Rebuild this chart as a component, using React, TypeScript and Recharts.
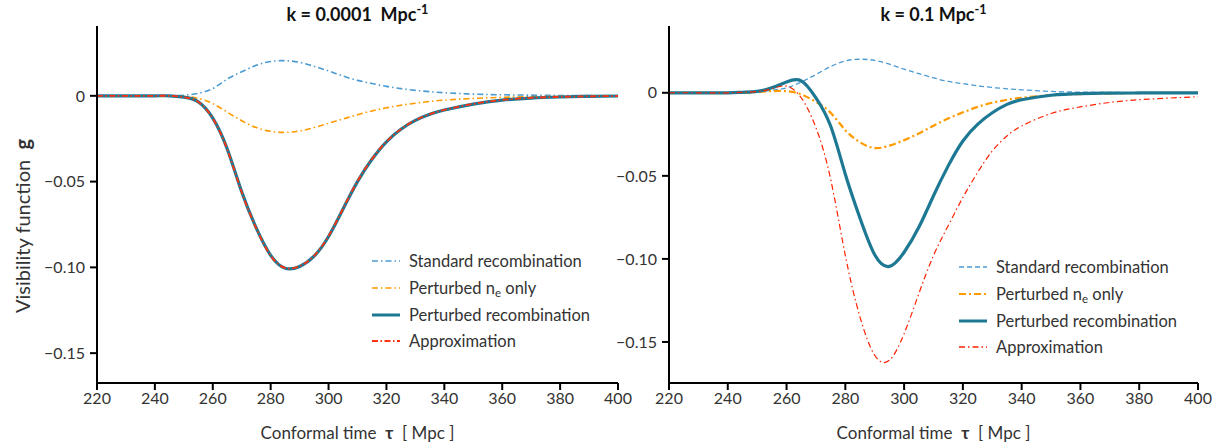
import { LineChart, Line, XAxis, YAxis, Legend } from "recharts";

const tau = [220, 230, 240, 245, 250, 255, 260, 265, 270, 275, 280, 285, 290, 295, 300, 305, 310, 315, 320, 325, 330, 335, 340, 350, 360, 370, 380, 390, 400];

const xTicks = [220, 240, 260, 280, 300, 320, 340, 360, 380, 400];
const yTicks = [0, -0.05, -0.1, -0.15];

// k = 0.0001 Mpc^-1
const lowStandard = [0, 0, 0, 0, 0.0003, 0.0015, 0.0042, 0.0098, 0.014, 0.0178, 0.02, 0.0205, 0.0195, 0.0172, 0.0145, 0.0115, 0.009, 0.0072, 0.0055, 0.0042, 0.0032, 0.0024, 0.0018, 0.001, 0.0006, 0.0004, 0.0002, 0.0001, 0];
const lowNe = [0, 0, 0, 0, -0.0003, -0.0015, -0.0045, -0.0095, -0.0145, -0.0185, -0.0207, -0.0213, -0.0205, -0.0185, -0.016, -0.0135, -0.011, -0.0088, -0.007, -0.0055, -0.0043, -0.0033, -0.0025, -0.0015, -0.0009, -0.0005, -0.0003, -0.0001, 0];
const lowPerturbed = [0, 0, 0, 0, -0.0008, -0.0035, -0.013, -0.031, -0.056, -0.077, -0.093, -0.1005, -0.0995, -0.0935, -0.082, -0.066, -0.05, -0.037, -0.0268, -0.0195, -0.0143, -0.0108, -0.0083, -0.0048, -0.0025, -0.0013, -0.0007, -0.0003, -0.0001];
const lowApprox = [0, 0, 0, 0, -0.0008, -0.0036, -0.0132, -0.0312, -0.0562, -0.0772, -0.0932, -0.1003, -0.0993, -0.0933, -0.0818, -0.0658, -0.0498, -0.0368, -0.0267, -0.0194, -0.0142, -0.0107, -0.0082, -0.0047, -0.0024, -0.0012, -0.0006, -0.0003, -0.0001];

// k = 0.1 Mpc^-1
const highStandard = [0, 0, 0, 0, 0.0004, 0.0015, 0.003, 0.0065, 0.011, 0.0158, 0.0192, 0.0202, 0.0195, 0.0172, 0.0142, 0.0115, 0.009, 0.0068, 0.0055, 0.0042, 0.0032, 0.0024, 0.0018, 0.0008, 0.0004, 0.0002, 0.0001, 0, 0];
const highNe = [0, 0, 0, 0, 0.0005, 0.001, 0.001, -0.001, -0.0055, -0.012, -0.0225, -0.0298, -0.0333, -0.0318, -0.0285, -0.0245, -0.0198, -0.0155, -0.0118, -0.0085, -0.006, -0.0042, -0.003, -0.0015, -0.0008, -0.0004, -0.0002, -0.0001, 0];
const highPerturbed = [0, 0, 0, 0.0003, 0.0008, 0.003, 0.0065, 0.0072, -0.003, -0.02, -0.049, -0.0755, -0.0975, -0.1045, -0.096, -0.081, -0.062, -0.044, -0.029, -0.019, -0.012, -0.007, -0.0042, -0.0015, -0.0005, -0.0002, -0.0001, 0, 0];
const highApprox = [0, 0, 0, 0.0003, 0.0008, 0.0025, 0.004, -0.003, -0.021, -0.052, -0.098, -0.135, -0.158, -0.161, -0.145, -0.121, -0.098, -0.08, -0.063, -0.048, -0.035, -0.026, -0.02, -0.0125, -0.0085, -0.0058, -0.0042, -0.0032, -0.0024];

const FONT = "Lato, 'Open Sans', sans-serif";
const TEXT = "#333";

const lowData = tau.map((t, i) => ({ tau: t, standard: lowStandard[i], ne: lowNe[i], perturbed: lowPerturbed[i], approx: lowApprox[i] }));
const highData = tau.map((t, i) => ({ tau: t, standard: highStandard[i], ne: highNe[i], perturbed: highPerturbed[i], approx: highApprox[i] }));

interface SeriesStyle {
  key: string;
  label: React.ReactNode;
  color: string;
  width: number;
  dash?: string;
}

const neLabel = (
  <>
    Perturbed n<sub style={{ fontSize: "0.7em", verticalAlign: "-0.25em" }}>e</sub> only
  </>
);

const lowStyles: SeriesStyle[] = [
  { key: "standard", label: "Standard recombination", color: "#4b9bd2", width: 1.6, dash: "6 3 1.5 3" },
  { key: "ne", label: neLabel, color: "#ff9a00", width: 1.6, dash: "6 3 1.5 3" },
  { key: "perturbed", label: "Perturbed recombination", color: "#1d7893", width: 3.2 },
  { key: "approx", label: "Approximation", color: "#ff3311", width: 1.8, dash: "6 2.5 1.5 2.5" },
];

const highStyles: SeriesStyle[] = [
  { key: "standard", label: "Standard recombination", color: "#4b9bd2", width: 1.3, dash: "5 3" },
  { key: "ne", label: neLabel, color: "#ff9a00", width: 2.2, dash: "7 3 2 3" },
  { key: "perturbed", label: "Perturbed recombination", color: "#1d7893", width: 3.2 },
  { key: "approx", label: "Approximation", color: "#ff2200", width: 1.2, dash: "6 3 1.5 3" },
];

const fmtY = (v: number) => (v === 0 ? "0" : "\u2212" + Math.abs(v).toFixed(2));

function LegendBox({ items }: { items: SeriesStyle[] }) {
  return (
    <div style={{ fontFamily: FONT, fontSize: 16.5, color: TEXT }}>
      {items.map((s) => (
        <div key={s.key} style={{ display: "flex", alignItems: "center", height: 26.7, whiteSpace: "nowrap" }}>
          <svg width={30} height={10} style={{ marginRight: 8 }}>
            <line x1={1} x2={29} y1={5} y2={5} stroke={s.color} strokeWidth={s.key === "perturbed" ? 3 : Math.max(1.6, s.width)} strokeDasharray={s.dash} />
          </svg>
          <span>{s.label}</span>
        </div>
      ))}
    </div>
  );
}

interface PanelProps {
  data: Array<Record<string, number>>;
  yDomain: [number, number];
  styles: SeriesStyle[];
  width: number;
  yAxisWidth: number;
  rightMargin: number;
  legendLeft: number;
  legendTop: number;
}

function Panel({ data, yDomain, styles, width, yAxisWidth, rightMargin, legendLeft, legendTop }: PanelProps) {
  const frame = { stroke: "#000", strokeWidth: 2 };
  return (
    <LineChart width={width} height={448} data={data} margin={{ top: 26, right: rightMargin, bottom: 0, left: 0 }}>
      <XAxis
        dataKey="tau"
        type="number"
        domain={[220, 400]}
        ticks={xTicks}
        interval={0}
        height={65}
        tickSize={7}
        tickMargin={3}
        axisLine={frame}
        tickLine={frame}
        tick={{ fill: TEXT, fontSize: 16, fontFamily: FONT }}
        allowDataOverflow
      />
      <XAxis xAxisId="top" orientation="top" dataKey="tau" type="number" domain={[220, 400]} height={0} tick={false} tickLine={false} axisLine={frame} />
      <YAxis
        type="number"
        domain={yDomain}
        ticks={yTicks}
        interval={0}
        width={yAxisWidth}
        tickSize={7}
        tickMargin={5}
        tickFormatter={fmtY}
        axisLine={frame}
        tickLine={frame}
        tick={{ fill: TEXT, fontSize: 16, fontFamily: FONT }}
        allowDataOverflow
      />
      <YAxis yAxisId="right" orientation="right" type="number" domain={yDomain} width={0} tick={false} tickLine={false} axisLine={frame} />
      {styles.map((s) => (
        <Line
          key={s.key}
          type="natural"
          dataKey={s.key}
          stroke={s.color}
          strokeWidth={s.width}
          strokeDasharray={s.dash}
          dot={false}
          activeDot={false}
          isAnimationActive={false}
        />
      ))}
      <Legend
        layout="vertical"
        align="center"
        verticalAlign="middle"
        wrapperStyle={{ position: "absolute", left: legendLeft, top: legendTop, width: "auto", height: "auto" }}
        content={() => <LegendBox items={styles} />}
      />
    </LineChart>
  );
}

const abs = (left: number, top: number): React.CSSProperties => ({
  position: "absolute",
  left,
  top,
  transform: "translate(-50%, -50%)",
  whiteSpace: "nowrap",
  fontFamily: FONT,
  color: TEXT,
});

export default function App() {
  return (
    <div style={{ position: "absolute", left: 0, top: 0, width: 1232, height: 448, background: "#fff", overflow: "hidden" }}>
      <div style={{ position: "absolute", left: 0, top: 0 }}>
        <Panel data={lowData} yDomain={[-0.1674, 0.0407]} styles={lowStyles} width={645} yAxisWidth={97} rightMargin={27} legendLeft={371} legendTop={248} />
      </div>
      <div style={{ position: "absolute", left: 560, top: 0 }}>
        <Panel data={highData} yDomain={[-0.1747, 0.0402]} styles={highStyles} width={672} yAxisWidth={109} rightMargin={34} legendLeft={398} legendTop={254} />
      </div>

      <div style={{ ...abs(357.5, 13), fontWeight: 700, fontSize: 18, color: "#111" }}>
        k = 0.0001&nbsp;&nbsp;Mpc<sup style={{ fontSize: "0.7em" }}>-1</sup>
      </div>
      <div style={{ ...abs(933.5, 13), fontWeight: 700, fontSize: 18, color: "#111" }}>
        k = 0.1 Mpc<sup style={{ fontSize: "0.7em" }}>-1</sup>
      </div>

      <div style={{ ...abs(357.5, 432), fontSize: 17 }}>
        Conformal time&nbsp;&nbsp;<b>τ</b>&nbsp;&nbsp;[ Mpc ]
      </div>
      <div style={{ ...abs(933.5, 432), fontSize: 17 }}>
        Conformal time&nbsp;&nbsp;<b>τ</b>&nbsp;&nbsp;[ Mpc ]
      </div>

      <div style={{ ...abs(22, 226), fontSize: 20, transform: "translate(-50%, -50%) rotate(-90deg)" }}>
        Visibility function&nbsp;&nbsp;<b>g</b>
      </div>
    </div>
  );
}
